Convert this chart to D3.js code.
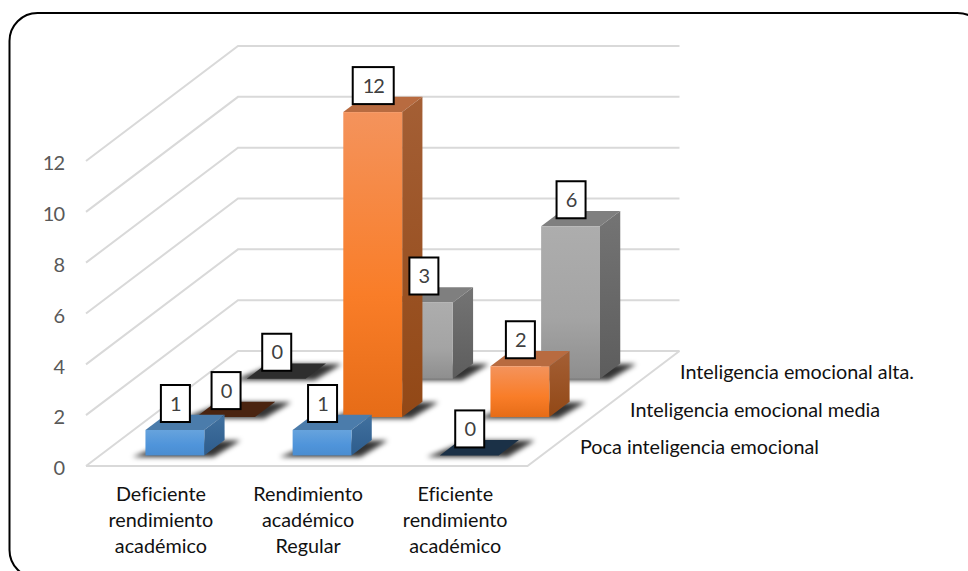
<!DOCTYPE html>
<html>
<head>
<meta charset="utf-8">
<script src="https://cdn.jsdelivr.net/npm/d3@7"></script>
<style>
  html, body { margin: 0; padding: 0; background: #fff; overflow: hidden; }
  text { font-family: Lato, "Open Sans", sans-serif; font-variant-ligatures: none; }
</style>
</head>
<body>
<svg id="chart" width="968" height="571"></svg>
<script>
'use strict';

// data
const categories = [ ['Deficiente', 'rendimiento', 'académico'],
                     ['Rendimiento', 'académico', 'Regular'],
                     ['Eficiente', 'rendimiento', 'académico'] ];
const seriesNames = [ 'Poca inteligencia emocional', 'Inteligencia emocional media', 'Inteligencia emocional alta.' ];
const pocaValues  = [ 1, 1, 0 ];
const mediaValues = [ 0, 12, 2 ];
const altaValues  = [ 0, 3, 6 ];
const yTicks      = [ 0, 2, 4, 6, 8, 10, 12 ];

const seriesValues = [ pocaValues, mediaValues, altaValues ];
const catIds       = categories.map( (c, i) => i );

// colours per series: front gradient, side gradient, top, flat top of a zero bar
const palette = [
  { front: ['#66a3dd', '#4f94da', '#4a8dd0'], side: ['#41719f', '#2d5c8c'], top: '#4b7cab', zero: '#1b3147' },
  { front: ['#f4935c', '#f97d28', '#e66c17'], side: ['#a45f35', '#924816'], top: '#b86b40', zero: '#4a2410' },
  { front: ['#adadad', '#a4a4a4', '#8e8e8e'], side: ['#747474', '#5d5d5d'], top: '#7f7f7f', zero: '#2e2e2e' }
];

const svg  = d3.select('#chart');
const defs = svg.append('defs');

// frame
svg.append('rect')
    .attr('x', 9.5).attr('y', 13)
    .attr('width', 976).attr('height', 565)
    .attr('rx', 28).attr('ry', 28)
    .style('fill', '#fff')
    .style('stroke', '#000')
    .style('stroke-width', 2);

// scales: category along x, series along depth (0 front, 1 back), value up
const x = d3.scaleBand().domain( catIds ).range( [86, 527.5] ).paddingInner( 0.6 ).paddingOuter( 0.3 ).align( 0.515 );
const z = d3.scaleBand().domain( [0, 1, 2] ).range( [-0.008, 0.992] ).paddingInner( 0.6 ).paddingOuter( 0.3 );
const y = d3.scaleLinear().domain( [0, 12] ).range( [466, 161] );

const depthX = 152,
      depthY = 115;

// oblique projection of a chart point to the screen
function project( px, t, v ) {
  return [ px + t * depthX, y( v ) - t * depthY ];
}
const pts = (list) => list.map( (p) => p.join(',') ).join(' ');

// gradients
palette.forEach( (p, i) => {
  const front = defs.append('linearGradient').attr('id', 'front' + i).attr('x1', 0).attr('y1', 0).attr('x2', 0).attr('y2', 1);
  [0, 0.6, 1].forEach( (o, k) => front.append('stop').attr('offset', o).attr('stop-color', p.front[k]) );
  const side = defs.append('linearGradient').attr('id', 'side' + i).attr('x1', 0).attr('y1', 0).attr('x2', 0).attr('y2', 1);
  [0, 1].forEach( (o, k) => side.append('stop').attr('offset', o).attr('stop-color', p.side[k]) );
});
defs.append('filter').attr('id', 'blur')
    .attr('x', '-30%').attr('y', '-60%').attr('width', '160%').attr('height', '220%')
  .append('feGaussianBlur').attr('stdDeviation', 2.8);

// gridlines on the side wall and back wall
const [xMin, xMax] = x.range();
svg.append('g').attr('class', 'grid')
  .selectAll('polyline')
  .data( yTicks )
  .enter().append('polyline')
    .attr('points', (d) => pts( [ project( xMin, 0, d ), project( xMin, 1, d ), project( xMax, 1, d ) ] ))
    .style('fill', 'none')
    .style('stroke', '#d9d9d9')
    .style('stroke-width', 2);

// front and right edge of the floor
svg.append('polyline')
    .attr('points', pts( [ project( xMin, 0, 0 ), project( xMax, 0, 0 ), project( xMax, 1, 0 ) ] ))
    .style('fill', 'none')
    .style('stroke', '#d9d9d9')
    .style('stroke-width', 2);

// y axis labels
const yAxis = svg.append('g')
    .attr('transform', 'translate(64,0)')
    .call( d3.axisLeft( y ).tickValues( yTicks ).tickSize( 0 ).tickPadding( 0 ) );
yAxis.select('.domain').remove();
yAxis.selectAll('text')
    .attr('dy', '0.44em')
    .style('font-size', '20px')
    .style('letter-spacing', '-1px')
    .style('font-family', 'Lato, "Open Sans", sans-serif')
    .style('fill', '#595959');

// flatten to one record per bar, back row first so nearer bars overlap
const bars = [];
[2, 1, 0].forEach( (s) => catIds.forEach( (c) => bars.push( { s, c, v: seriesValues[s][c] } ) ) );

const barWidth = x.bandwidth(),
      barDepth = z.bandwidth();

const barG = svg.append('g').attr('class', 'bars')
  .selectAll('g')
  .data( bars )
  .enter().append('g');

// soft shadow on the floor
barG.append('polygon')
    .attr('points', (d) => {
      const l = x( d.c ), t = z( d.s );
      const a = project( l, t, 0 ), b = project( l + barWidth, t, 0 ),
            c = project( l + barWidth, t + barDepth, 0 ), e = project( l, t + barDepth, 0 );
      return pts( [ [a[0] - 13, a[1] + 1.5], [b[0] + 9, b[1] + 1.5], [c[0] + 16, c[1] + 0.5], [e[0] + 8, e[1] + 0.5] ] );
    })
    .attr('filter', 'url(#blur)')
    .style('fill', '#000')
    .style('fill-opacity', 0.8);

// top face
barG.append('polygon')
    .attr('points', (d) => {
      const l = x( d.c ), t = z( d.s );
      return pts( [ project( l, t, d.v ), project( l + barWidth, t, d.v ),
                    project( l + barWidth, t + barDepth, d.v ), project( l, t + barDepth, d.v ) ] );
    })
    .style('fill', (d) => d.v === 0 ? palette[d.s].zero : palette[d.s].top);

// side face
barG.filter( (d) => d.v > 0 ).append('polygon')
    .attr('points', (d) => {
      const r = x( d.c ) + barWidth, t = z( d.s );
      return pts( [ project( r, t, d.v ), project( r, t + barDepth, d.v ),
                    project( r, t + barDepth, 0 ), project( r, t, 0 ) ] );
    })
    .style('fill', (d) => `url(#side${d.s})`);

// front face
barG.filter( (d) => d.v > 0 ).append('rect')
    .attr('x', (d) => project( x( d.c ), z( d.s ), d.v )[0])
    .attr('y', (d) => project( x( d.c ), z( d.s ), d.v )[1])
    .attr('width', barWidth)
    .attr('height', (d) => y( 0 ) - y( d.v ))
    .style('fill', (d) => `url(#front${d.s})`);

// value labels, boxed, on top of all the bars
const labelG = svg.append('g').attr('class', 'labels')
  .selectAll('g')
  .data( bars )
  .enter().append('g')
    .attr('transform', (d) => {
      const p = project( x( d.c ) + barWidth / 2, z( d.s ), d.v );
      return `translate(${p[0] + 0.5},${p[1] - 26.5})`;
    });
labelG.append('rect')
    .attr('x', (d) => -(String( d.v ).length * 12 + 17) / 2)
    .attr('y', -18.5)
    .attr('width', (d) => String( d.v ).length * 12 + 17)
    .attr('height', 37)
    .style('fill', '#fff')
    .style('stroke', '#000')
    .style('stroke-width', 2);
labelG.append('text')
    .attr('text-anchor', 'middle')
    .attr('dy', '0.36em')
    .style('font-size', '20px')
    .style('letter-spacing', '-1px')
    .style('fill', '#404040')
    .text( (d) => d.v );

// category labels
svg.append('g').attr('class', 'categories')
  .selectAll('text')
  .data( catIds )
  .enter().append('text')
    .attr('text-anchor', 'middle')
    .style('font-size', '19.8px')
    .style('fill', '#111')
  .selectAll('tspan')
  .data( (c) => categories[c].map( (line, i) => ({ c, line, i }) ) )
  .enter().append('tspan')
    .attr('x', (d) => x( d.c ) + barWidth / 2)
    .attr('y', (d) => 501 + d.i * 26)
    .text( (d) => d.line );

// series labels, following the right edge of the floor
svg.append('g').attr('class', 'series')
  .selectAll('text')
  .data( seriesNames )
  .enter().append('text')
    .attr('x', (d, i) => 580 + i * 50)
    .attr('y', (d, i) => 454 - i * 37.5)
    .style('font-size', '19.8px')
    .style('fill', '#111')
    .text( (d) => d );
</script>
</body>
</html>
